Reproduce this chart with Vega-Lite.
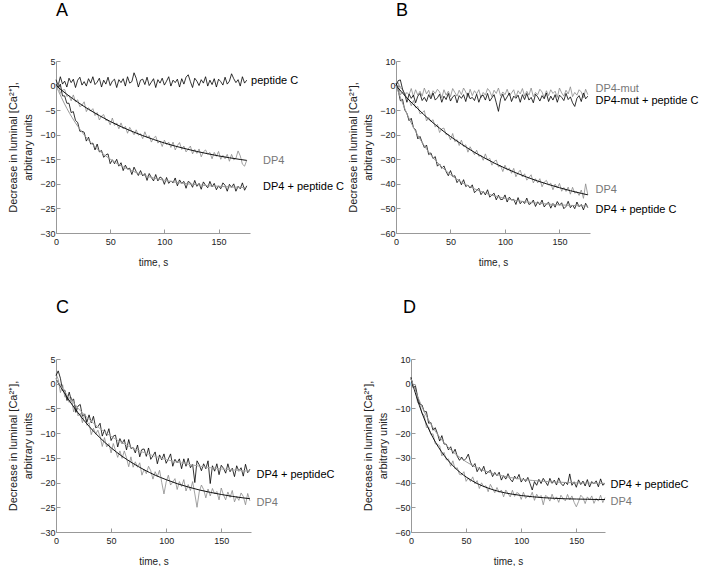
{
"$schema":"https://vega.github.io/schema/vega-lite/v6.json",
"background":"white",
"padding":{"left":7,"top":2,"right":0,"bottom":0},
"config":{
 "font":"Liberation Sans",
 "view":{"stroke":null},
 "axis":{"grid":false,"domainColor":"#999999","domainWidth":1,"tickColor":"#999999","tickSize":-4,"labelFontSize":9,"labelColor":"#222222","titleFontSize":11,"titleFontWeight":"normal","titleColor":"#222222","labelFlush":false,"labelOverlap":false},
 "axisX":{"labelPadding":8,"titlePadding":11,"titleFontSize":10},
 "axisY":{"labelPadding":5,"titlePadding":6,"titleLineHeight":15},
 "title":{"anchor":"start","frame":"group","baseline":"alphabetic","fontSize":18,"fontWeight":"normal","font":"Liberation Sans","color":"#000000"}
},
"datasets":{
"A1":[{"t":0,"v":1.2},{"t":2,"v":0},{"t":4,"v":1.8},{"t":6,"v":0.3},{"t":8,"v":0.9},{"t":10,"v":-0.3},{"t":12,"v":1.5},{"t":14,"v":0.6},{"t":16,"v":1.3},{"t":18,"v":-0.4},{"t":20,"v":1.1},{"t":22,"v":1.7},{"t":24,"v":0.1},{"t":26,"v":0.8},{"t":28,"v":-0.1},{"t":30,"v":1.4},{"t":32,"v":0.5},{"t":34,"v":1.8},{"t":36,"v":0.2},{"t":38,"v":0.7},{"t":40,"v":1.5},{"t":42,"v":-0.3},{"t":44,"v":1.1},{"t":46,"v":0.3},{"t":48,"v":1.7},{"t":50,"v":0},{"t":52,"v":0.9},{"t":54,"v":1.3},{"t":56,"v":-0.4},{"t":58,"v":1.2},{"t":60,"v":0.6},{"t":62,"v":1.4},{"t":64,"v":-0.1},{"t":66,"v":1.8},{"t":68,"v":0.5},{"t":70,"v":0.8},{"t":72,"v":2.6},{"t":74,"v":1.5},{"t":76,"v":-0.3},{"t":78,"v":1.1},{"t":80,"v":1.3},{"t":82,"v":0.2},{"t":84,"v":1.7},{"t":86,"v":0},{"t":88,"v":0.7},{"t":90,"v":1.4},{"t":92,"v":-0.4},{"t":94,"v":1.2},{"t":96,"v":0.5},{"t":98,"v":1.5},{"t":100,"v":0.1},{"t":102,"v":0.9},{"t":104,"v":1.8},{"t":106,"v":-0.1},{"t":108,"v":1.1},{"t":110,"v":0.6},{"t":112,"v":1.3},{"t":114,"v":-0.3},{"t":116,"v":1.4},{"t":118,"v":0.3},{"t":120,"v":1.7},{"t":122,"v":2.2},{"t":124,"v":0.8},{"t":126,"v":-0.4},{"t":128,"v":1.5},{"t":130,"v":0.9},{"t":132,"v":0},{"t":134,"v":1.2},{"t":136,"v":0.5},{"t":138,"v":1.8},{"t":140,"v":-0.1},{"t":142,"v":1.1},{"t":144,"v":0.2},{"t":146,"v":1.4},{"t":148,"v":-0.3},{"t":150,"v":1.3},{"t":152,"v":0.8},{"t":154,"v":0.1},{"t":156,"v":1.7},{"t":158,"v":0.3},{"t":160,"v":0.9},{"t":162,"v":2.4},{"t":164,"v":1.4},{"t":166,"v":0.6},{"t":168,"v":1.2},{"t":170,"v":-0.1},{"t":172,"v":1.8},{"t":174,"v":0.5},{"t":176,"v":1.1}],
"A2":[{"t":0,"v":-0.3},{"t":2,"v":0.4},{"t":4,"v":-1.6},{"t":6,"v":-0.9},{"t":8,"v":-0.8},{"t":10,"v":-2.2},{"t":12,"v":-2.0},{"t":14,"v":-3.1},{"t":16,"v":-1.9},{"t":18,"v":-3.3},{"t":20,"v":-2.9},{"t":22,"v":-4.3},{"t":24,"v":-4.0},{"t":26,"v":-3.3},{"t":28,"v":-5.3},{"t":30,"v":-4.5},{"t":32,"v":-5.2},{"t":34,"v":-4.7},{"t":36,"v":-6.1},{"t":38,"v":-5.5},{"t":40,"v":-7.0},{"t":42,"v":-6.2},{"t":44,"v":-5.9},{"t":46,"v":-7.1},{"t":48,"v":-7.0},{"t":50,"v":-8.0},{"t":52,"v":-6.6},{"t":54,"v":-8.1},{"t":56,"v":-7.6},{"t":58,"v":-8.8},{"t":60,"v":-7.6},{"t":62,"v":-8.8},{"t":64,"v":-8.3},{"t":66,"v":-9.7},{"t":68,"v":-8.5},{"t":70,"v":-9.3},{"t":72,"v":-10.0},{"t":74,"v":-9.0},{"t":76,"v":-10.1},{"t":78,"v":-9.8},{"t":80,"v":-10.8},{"t":82,"v":-9.4},{"t":84,"v":-10.6},{"t":86,"v":-10.2},{"t":88,"v":-11.5},{"t":90,"v":-10.7},{"t":92,"v":-10.3},{"t":94,"v":-11.7},{"t":96,"v":-11.3},{"t":98,"v":-12.4},{"t":100,"v":-11.1},{"t":102,"v":-12.0},{"t":104,"v":-11.5},{"t":106,"v":-12.6},{"t":108,"v":-11.5},{"t":110,"v":-13.1},{"t":112,"v":-12.2},{"t":114,"v":-11.6},{"t":116,"v":-13.0},{"t":118,"v":-12.3},{"t":120,"v":-13.5},{"t":122,"v":-12.9},{"t":124,"v":-12.3},{"t":126,"v":-13.9},{"t":128,"v":-13.0},{"t":130,"v":-13.8},{"t":132,"v":-12.9},{"t":134,"v":-14.5},{"t":136,"v":-13.5},{"t":138,"v":-13.1},{"t":140,"v":-14.0},{"t":142,"v":-13.6},{"t":144,"v":-14.9},{"t":146,"v":-13.6},{"t":148,"v":-14.4},{"t":150,"v":-13.4},{"t":152,"v":-15.0},{"t":154,"v":-14.2},{"t":156,"v":-14.9},{"t":158,"v":-14.0},{"t":160,"v":-15.4},{"t":162,"v":-14.0},{"t":164,"v":-15.1},{"t":166,"v":-14.8},{"t":168,"v":-13.3},{"t":170,"v":-14.3},{"t":172,"v":-16.0},{"t":174,"v":-16.4},{"t":176,"v":-15.2}],
"A3":[{"t":0,"v":0.3},{"t":2,"v":-0.4},{"t":4,"v":0.3},{"t":6,"v":-2.1},{"t":8,"v":-2.1},{"t":10,"v":-3.6},{"t":12,"v":-3.6},{"t":14,"v":-5.5},{"t":16,"v":-5.3},{"t":18,"v":-7.1},{"t":20,"v":-7.5},{"t":22,"v":-9.3},{"t":24,"v":-9.3},{"t":26,"v":-9.5},{"t":28,"v":-11.3},{"t":30,"v":-10.5},{"t":32,"v":-11.9},{"t":34,"v":-11.7},{"t":36,"v":-13.1},{"t":38,"v":-11.9},{"t":40,"v":-13.5},{"t":42,"v":-13.2},{"t":44,"v":-14.6},{"t":46,"v":-14.1},{"t":48,"v":-13.9},{"t":50,"v":-15.9},{"t":52,"v":-15.1},{"t":54,"v":-15.9},{"t":56,"v":-15.0},{"t":58,"v":-16.4},{"t":60,"v":-15.7},{"t":62,"v":-17.3},{"t":64,"v":-16.2},{"t":66,"v":-17.0},{"t":68,"v":-16.8},{"t":70,"v":-18.1},{"t":72,"v":-16.6},{"t":74,"v":-17.5},{"t":76,"v":-18.3},{"t":78,"v":-17.3},{"t":80,"v":-18.4},{"t":82,"v":-17.9},{"t":84,"v":-19.3},{"t":86,"v":-17.9},{"t":88,"v":-18.7},{"t":90,"v":-19.4},{"t":92,"v":-18.1},{"t":94,"v":-19.4},{"t":96,"v":-18.6},{"t":98,"v":-18.9},{"t":100,"v":-20.1},{"t":102,"v":-18.7},{"t":104,"v":-19.9},{"t":106,"v":-19.4},{"t":108,"v":-19.8},{"t":110,"v":-18.8},{"t":112,"v":-20.4},{"t":114,"v":-19.2},{"t":116,"v":-19.9},{"t":118,"v":-19.5},{"t":120,"v":-20.9},{"t":122,"v":-19.5},{"t":124,"v":-19.8},{"t":126,"v":-20.7},{"t":128,"v":-19.3},{"t":130,"v":-20.5},{"t":132,"v":-19.9},{"t":134,"v":-21.1},{"t":136,"v":-19.6},{"t":138,"v":-20.3},{"t":140,"v":-20.8},{"t":142,"v":-19.5},{"t":144,"v":-20.6},{"t":146,"v":-19.9},{"t":148,"v":-21.2},{"t":150,"v":-20.4},{"t":152,"v":-21.0},{"t":154,"v":-19.8},{"t":156,"v":-20.3},{"t":158,"v":-21.5},{"t":160,"v":-20.1},{"t":162,"v":-20.7},{"t":164,"v":-20.0},{"t":166,"v":-21.5},{"t":168,"v":-20.5},{"t":170,"v":-21.0},{"t":172,"v":-19.8},{"t":174,"v":-21.3},{"t":176,"v":-20.4}],
"fA2":[{"t":0,"v":0},{"t":10,"v":-1.77},{"t":20,"v":-3.38},{"t":30,"v":-4.82},{"t":40,"v":-6.11},{"t":50,"v":-7.3},{"t":60,"v":-8.36},{"t":70,"v":-9.31},{"t":80,"v":-10.18},{"t":90,"v":-10.97},{"t":100,"v":-11.68},{"t":110,"v":-12.32},{"t":120,"v":-12.88},{"t":130,"v":-13.41},{"t":140,"v":-13.87},{"t":150,"v":-14.31},{"t":160,"v":-14.69},{"t":170,"v":-15.04},{"t":176,"v":-15.22}],
"fA3":[{"t":0,"v":0},{"t":10,"v":-4.64},{"t":20,"v":-8.25},{"t":30,"v":-11.09},{"t":40,"v":-13.27},{"t":50,"v":-14.97},{"t":60,"v":-16.32},{"t":70,"v":-17.35},{"t":80,"v":-18.16},{"t":90,"v":-18.8},{"t":100,"v":-19.28},{"t":110,"v":-19.66},{"t":120,"v":-19.95},{"t":130,"v":-20.18},{"t":140,"v":-20.37},{"t":150,"v":-20.5},{"t":160,"v":-20.62},{"t":170,"v":-20.71},{"t":176,"v":-20.75}],
"labA":[{"t":180,"v":0.9,"label":"peptide C","g":"k"},{"t":191,"v":-15.3,"label":"DP4","g":"g"},{"t":191,"v":-20.6,"label":"DP4 + peptide C","g":"k"}],
"B1":[{"t":0,"v":0.5},{"t":2,"v":1.2},{"t":4,"v":-1.0},{"t":6,"v":-1.5},{"t":8,"v":-4.1},{"t":10,"v":-2.8},{"t":12,"v":-3.7},{"t":14,"v":-1.2},{"t":16,"v":-4.5},{"t":18,"v":-1.7},{"t":20,"v":-3.9},{"t":22,"v":-2.3},{"t":24,"v":-4.3},{"t":26,"v":-1.0},{"t":28,"v":-3.4},{"t":30,"v":-1.9},{"t":32,"v":-4.8},{"t":34,"v":-2.1},{"t":36,"v":-3.2},{"t":38,"v":-1.5},{"t":40,"v":-2.6},{"t":42,"v":-5.0},{"t":44,"v":-1.7},{"t":46,"v":-3.9},{"t":48,"v":-2.3},{"t":50,"v":-4.5},{"t":52,"v":-1.2},{"t":54,"v":-2.8},{"t":56,"v":-4.3},{"t":58,"v":-1.9},{"t":60,"v":-3.7},{"t":62,"v":-1.0},{"t":64,"v":-2.6},{"t":66,"v":-4.8},{"t":68,"v":-1.5},{"t":70,"v":-4.1},{"t":72,"v":-2.1},{"t":74,"v":-3.4},{"t":76,"v":-1.7},{"t":78,"v":-5.0},{"t":80,"v":-2.8},{"t":82,"v":-3.9},{"t":84,"v":-1.2},{"t":86,"v":-2.3},{"t":88,"v":-4.5},{"t":90,"v":-1.9},{"t":92,"v":-3.2},{"t":94,"v":-1.0},{"t":96,"v":-4.3},{"t":98,"v":-2.6},{"t":100,"v":-3.7},{"t":102,"v":-1.5},{"t":104,"v":-4.1},{"t":106,"v":-3.0},{"t":108,"v":-1.7},{"t":110,"v":-4.8},{"t":112,"v":-2.1},{"t":114,"v":-3.4},{"t":116,"v":-1.2},{"t":118,"v":-4.3},{"t":120,"v":-2.3},{"t":122,"v":-3.9},{"t":124,"v":-1.0},{"t":126,"v":-4.5},{"t":128,"v":-2.8},{"t":130,"v":-3.7},{"t":132,"v":-1.5},{"t":134,"v":-2.6},{"t":136,"v":-5.0},{"t":138,"v":-2.1},{"t":140,"v":-4.1},{"t":142,"v":-1.7},{"t":144,"v":-3.2},{"t":146,"v":-2.3},{"t":148,"v":-4.8},{"t":150,"v":-1.0},{"t":152,"v":-3.0},{"t":154,"v":-4.3},{"t":156,"v":-1.9},{"t":158,"v":-3.4},{"t":160,"v":-0.5},{"t":162,"v":-4.5},{"t":164,"v":-2.8},{"t":166,"v":-3.9},{"t":168,"v":-1.7},{"t":170,"v":-2.6},{"t":172,"v":-5.0},{"t":174,"v":-1.5},{"t":176,"v":-3.7}],
"B2":[{"t":0,"v":0},{"t":2,"v":2.0},{"t":4,"v":2.3},{"t":6,"v":-1.5},{"t":8,"v":-3.5},{"t":10,"v":-6.8},{"t":12,"v":-3.5},{"t":14,"v":-5.2},{"t":16,"v":-3.9},{"t":18,"v":-7.0},{"t":20,"v":-4.3},{"t":22,"v":-3.2},{"t":24,"v":-6.1},{"t":26,"v":-4.8},{"t":28,"v":-6.5},{"t":30,"v":-3.7},{"t":32,"v":-5.4},{"t":34,"v":-3.0},{"t":36,"v":-5.9},{"t":38,"v":-5.0},{"t":40,"v":-3.5},{"t":42,"v":-6.8},{"t":44,"v":-4.3},{"t":46,"v":-5.7},{"t":48,"v":-3.2},{"t":50,"v":-6.3},{"t":52,"v":-4.6},{"t":54,"v":-3.9},{"t":56,"v":-7.0},{"t":58,"v":-4.1},{"t":60,"v":-5.2},{"t":62,"v":-3.7},{"t":64,"v":-6.5},{"t":66,"v":-3.0},{"t":68,"v":-5.4},{"t":70,"v":-4.8},{"t":72,"v":-6.1},{"t":74,"v":-3.5},{"t":76,"v":-6.8},{"t":78,"v":-4.3},{"t":80,"v":-3.9},{"t":82,"v":-5.9},{"t":84,"v":-3.2},{"t":86,"v":-6.3},{"t":88,"v":-5.0},{"t":90,"v":-3.7},{"t":92,"v":-7.0},{"t":94,"v":-10.5},{"t":96,"v":-5.4},{"t":98,"v":-3.5},{"t":100,"v":-6.1},{"t":102,"v":-4.6},{"t":104,"v":-3.0},{"t":106,"v":-6.5},{"t":108,"v":-4.3},{"t":110,"v":-5.2},{"t":112,"v":-3.9},{"t":114,"v":-6.8},{"t":116,"v":-3.7},{"t":118,"v":-5.7},{"t":120,"v":-3.2},{"t":122,"v":-5.9},{"t":124,"v":-4.8},{"t":126,"v":-7.0},{"t":128,"v":-3.5},{"t":130,"v":-4.6},{"t":132,"v":-6.3},{"t":134,"v":-4.1},{"t":136,"v":-5.4},{"t":138,"v":-3.0},{"t":140,"v":-6.5},{"t":142,"v":-4.3},{"t":144,"v":-5.9},{"t":146,"v":-3.7},{"t":148,"v":-6.8},{"t":150,"v":-3.9},{"t":152,"v":-4.8},{"t":154,"v":-6.1},{"t":156,"v":-3.2},{"t":158,"v":-5.7},{"t":160,"v":-4.6},{"t":162,"v":-7.0},{"t":164,"v":-8.5},{"t":166,"v":-5.2},{"t":168,"v":-4.1},{"t":170,"v":-6.5},{"t":172,"v":-3.0},{"t":174,"v":-5.4},{"t":176,"v":-4.3}],
"B3":[{"t":0,"v":-0.6},{"t":2,"v":0.4},{"t":4,"v":-3.8},{"t":6,"v":-2.6},{"t":8,"v":-2.8},{"t":10,"v":-5.8},{"t":12,"v":-5.7},{"t":14,"v":-8.2},{"t":16,"v":-6.1},{"t":18,"v":-9.0},{"t":20,"v":-8.5},{"t":22,"v":-11.5},{"t":24,"v":-11.1},{"t":26,"v":-10.2},{"t":28,"v":-14.4},{"t":30,"v":-13.0},{"t":32,"v":-14.6},{"t":34,"v":-13.9},{"t":36,"v":-16.9},{"t":38,"v":-15.8},{"t":40,"v":-19.1},{"t":42,"v":-17.6},{"t":44,"v":-17.3},{"t":46,"v":-20.0},{"t":48,"v":-19.9},{"t":50,"v":-22.1},{"t":52,"v":-19.5},{"t":54,"v":-22.8},{"t":56,"v":-22.0},{"t":58,"v":-24.4},{"t":60,"v":-22.2},{"t":62,"v":-24.8},{"t":64,"v":-24.1},{"t":66,"v":-27.1},{"t":68,"v":-24.9},{"t":70,"v":-26.6},{"t":72,"v":-28.1},{"t":74,"v":-26.3},{"t":76,"v":-28.8},{"t":78,"v":-28.3},{"t":80,"v":-30.4},{"t":82,"v":-27.8},{"t":84,"v":-30.3},{"t":86,"v":-29.6},{"t":88,"v":-32.4},{"t":90,"v":-30.9},{"t":92,"v":-30.3},{"t":94,"v":-33.1},{"t":96,"v":-32.6},{"t":98,"v":-35.0},{"t":100,"v":-32.4},{"t":102,"v":-34.4},{"t":104,"v":-33.6},{"t":106,"v":-35.7},{"t":108,"v":-33.7},{"t":110,"v":-37.1},{"t":112,"v":-35.5},{"t":114,"v":-34.4},{"t":116,"v":-37.2},{"t":118,"v":-35.9},{"t":120,"v":-38.5},{"t":122,"v":-37.4},{"t":124,"v":-36.3},{"t":126,"v":-39.6},{"t":128,"v":-37.9},{"t":130,"v":-39.6},{"t":132,"v":-37.9},{"t":134,"v":-41.2},{"t":136,"v":-39.3},{"t":138,"v":-38.6},{"t":140,"v":-40.5},{"t":142,"v":-39.7},{"t":144,"v":-42.4},{"t":146,"v":-40.1},{"t":148,"v":-41.7},{"t":150,"v":-39.8},{"t":152,"v":-43.0},{"t":154,"v":-41.5},{"t":156,"v":-43.1},{"t":158,"v":-41.3},{"t":160,"v":-44.2},{"t":162,"v":-41.4},{"t":164,"v":-43.8},{"t":166,"v":-43.2},{"t":168,"v":-44.7},{"t":170,"v":-42.5},{"t":172,"v":-45.9},{"t":174,"v":-40.0},{"t":176,"v":-44.5}],
"B4":[{"t":0,"v":1.0},{"t":2,"v":-1.9},{"t":4,"v":-6.2},{"t":6,"v":-5.6},{"t":8,"v":-9.9},{"t":10,"v":-11.3},{"t":12,"v":-14.3},{"t":14,"v":-13.3},{"t":16,"v":-17.1},{"t":18,"v":-18.0},{"t":20,"v":-21.7},{"t":22,"v":-20.7},{"t":24,"v":-23.1},{"t":26,"v":-25.2},{"t":28,"v":-24.2},{"t":30,"v":-28.1},{"t":32,"v":-27.4},{"t":34,"v":-29.7},{"t":36,"v":-28.9},{"t":38,"v":-32.8},{"t":40,"v":-31.9},{"t":42,"v":-33.7},{"t":44,"v":-32.7},{"t":46,"v":-35.0},{"t":48,"v":-36.7},{"t":50,"v":-34.6},{"t":52,"v":-37.0},{"t":54,"v":-36.7},{"t":56,"v":-39.5},{"t":58,"v":-38.2},{"t":60,"v":-40.4},{"t":62,"v":-38.3},{"t":64,"v":-41.1},{"t":66,"v":-40.5},{"t":68,"v":-41.7},{"t":70,"v":-40.4},{"t":72,"v":-43.6},{"t":74,"v":-42.7},{"t":76,"v":-41.8},{"t":78,"v":-44.4},{"t":80,"v":-43.1},{"t":82,"v":-44.5},{"t":84,"v":-42.4},{"t":86,"v":-45.4},{"t":88,"v":-44.6},{"t":90,"v":-43.8},{"t":92,"v":-46.5},{"t":94,"v":-44.6},{"t":96,"v":-46.4},{"t":98,"v":-46.3},{"t":100,"v":-44.5},{"t":102,"v":-47.4},{"t":104,"v":-45.4},{"t":106,"v":-46.6},{"t":108,"v":-46.3},{"t":110,"v":-48.4},{"t":112,"v":-45.6},{"t":114,"v":-48.1},{"t":116,"v":-47.0},{"t":118,"v":-48.0},{"t":120,"v":-45.8},{"t":122,"v":-48.4},{"t":124,"v":-47.9},{"t":126,"v":-46.6},{"t":128,"v":-49.2},{"t":130,"v":-47.3},{"t":132,"v":-48.5},{"t":134,"v":-46.6},{"t":136,"v":-49.4},{"t":138,"v":-48.2},{"t":140,"v":-47.5},{"t":142,"v":-49.9},{"t":144,"v":-48.0},{"t":146,"v":-49.5},{"t":148,"v":-47.2},{"t":150,"v":-48.7},{"t":152,"v":-47.7},{"t":154,"v":-50.1},{"t":156,"v":-49.2},{"t":158,"v":-47.1},{"t":160,"v":-49.7},{"t":162,"v":-48.6},{"t":164,"v":-50.1},{"t":166,"v":-47.4},{"t":168,"v":-49.3},{"t":170,"v":-48.4},{"t":172,"v":-50.6},{"t":174,"v":-47.9},{"t":176,"v":-49.7}],
"fB3":[{"t":0,"v":0},{"t":10,"v":-4.98},{"t":20,"v":-9.46},{"t":30,"v":-13.62},{"t":40,"v":-17.34},{"t":50,"v":-20.73},{"t":60,"v":-23.79},{"t":70,"v":-26.64},{"t":80,"v":-29.16},{"t":90,"v":-31.51},{"t":100,"v":-33.59},{"t":110,"v":-35.5},{"t":120,"v":-37.25},{"t":130,"v":-38.84},{"t":140,"v":-40.26},{"t":150,"v":-41.57},{"t":160,"v":-42.78},{"t":170,"v":-43.87},{"t":176,"v":-44.47}],
"fB4":[{"t":0,"v":0},{"t":10,"v":-11.43},{"t":20,"v":-20.25},{"t":30,"v":-27.03},{"t":40,"v":-32.22},{"t":50,"v":-36.23},{"t":60,"v":-39.3},{"t":70,"v":-41.63},{"t":80,"v":-43.46},{"t":90,"v":-44.85},{"t":100,"v":-45.94},{"t":110,"v":-46.78},{"t":120,"v":-47.37},{"t":130,"v":-47.87},{"t":140,"v":-48.26},{"t":150,"v":-48.56},{"t":160,"v":-48.76},{"t":170,"v":-48.96},{"t":176,"v":-49.0}],
"labB":[{"t":183,"v":-1.4,"label":"DP4-mut","g":"g"},{"t":183,"v":-6.4,"label":"DP4-mut + peptide C","g":"k"},{"t":183,"v":-42.7,"label":"DP4","g":"g"},{"t":183,"v":-50.6,"label":"DP4 + peptide C","g":"k"}],
"C1":[{"t":0,"v":1.6},{"t":2,"v":2.6},{"t":4,"v":1.1},{"t":6,"v":-1.4},{"t":8,"v":-1.3},{"t":10,"v":-3.4},{"t":12,"v":-1.7},{"t":14,"v":-3.5},{"t":16,"v":-3.1},{"t":18,"v":-5.8},{"t":20,"v":-4.5},{"t":22,"v":-4.2},{"t":24,"v":-6.6},{"t":26,"v":-6.1},{"t":28,"v":-7.8},{"t":30,"v":-6.3},{"t":32,"v":-7.9},{"t":34,"v":-6.6},{"t":36,"v":-8.9},{"t":38,"v":-8.7},{"t":40,"v":-8.0},{"t":42,"v":-10.6},{"t":44,"v":-9.3},{"t":46,"v":-10.5},{"t":48,"v":-9.1},{"t":50,"v":-11.5},{"t":52,"v":-10.6},{"t":54,"v":-10.4},{"t":56,"v":-12.8},{"t":58,"v":-11.1},{"t":60,"v":-12.1},{"t":62,"v":-11.3},{"t":64,"v":-13.4},{"t":66,"v":-11.3},{"t":68,"v":-13.1},{"t":70,"v":-12.9},{"t":72,"v":-14.0},{"t":74,"v":-12.4},{"t":76,"v":-14.8},{"t":78,"v":-13.3},{"t":80,"v":-13.2},{"t":82,"v":-14.7},{"t":84,"v":-13.0},{"t":86,"v":-15.3},{"t":88,"v":-14.6},{"t":90,"v":-13.8},{"t":92,"v":-16.2},{"t":94,"v":-14.4},{"t":96,"v":-15.4},{"t":98,"v":-14.2},{"t":100,"v":-16.1},{"t":102,"v":-15.2},{"t":104,"v":-14.2},{"t":106,"v":-16.7},{"t":108,"v":-15.3},{"t":110,"v":-16.0},{"t":112,"v":-15.2},{"t":114,"v":-17.2},{"t":116,"v":-15.2},{"t":118,"v":-16.7},{"t":120,"v":-15.1},{"t":122,"v":-17.0},{"t":124,"v":-16.3},{"t":126,"v":-20.0},{"t":128,"v":-15.6},{"t":130,"v":-16.4},{"t":132,"v":-17.6},{"t":134,"v":-16.2},{"t":136,"v":-17.2},{"t":138,"v":-15.6},{"t":140,"v":-20.2},{"t":142,"v":-16.6},{"t":144,"v":-17.7},{"t":146,"v":-16.2},{"t":148,"v":-18.4},{"t":150,"v":-16.5},{"t":152,"v":-17.1},{"t":154,"v":-18.1},{"t":156,"v":-16.2},{"t":158,"v":-17.8},{"t":160,"v":-17.1},{"t":162,"v":-18.8},{"t":164,"v":-16.6},{"t":166,"v":-17.7},{"t":168,"v":-17.0},{"t":170,"v":-18.7},{"t":172,"v":-16.3},{"t":174,"v":-18.0},{"t":176,"v":-17.3}],
"C2":[{"t":0,"v":2.0},{"t":2,"v":0.9},{"t":4,"v":-1.8},{"t":6,"v":-0.2},{"t":8,"v":-2.7},{"t":10,"v":-2.6},{"t":12,"v":-3.8},{"t":14,"v":-2.8},{"t":16,"v":-5.7},{"t":18,"v":-4.4},{"t":20,"v":-6.5},{"t":22,"v":-6.0},{"t":24,"v":-7.9},{"t":26,"v":-6.2},{"t":28,"v":-8.4},{"t":30,"v":-7.9},{"t":32,"v":-10.3},{"t":34,"v":-9.0},{"t":36,"v":-10.2},{"t":38,"v":-9.4},{"t":40,"v":-10.7},{"t":42,"v":-12.7},{"t":44,"v":-10.9},{"t":46,"v":-12.8},{"t":48,"v":-12.1},{"t":50,"v":-14.0},{"t":52,"v":-12.1},{"t":54,"v":-13.5},{"t":56,"v":-14.9},{"t":58,"v":-13.6},{"t":60,"v":-15.1},{"t":62,"v":-13.6},{"t":64,"v":-15.0},{"t":66,"v":-16.8},{"t":68,"v":-14.8},{"t":70,"v":-16.9},{"t":72,"v":-15.8},{"t":74,"v":-16.9},{"t":76,"v":-16.0},{"t":78,"v":-18.5},{"t":80,"v":-17.3},{"t":82,"v":-18.2},{"t":84,"v":-16.7},{"t":86,"v":-17.6},{"t":88,"v":-19.3},{"t":90,"v":-17.8},{"t":92,"v":-18.8},{"t":94,"v":-17.5},{"t":96,"v":-20.0},{"t":98,"v":-22.3},{"t":100,"v":-19.9},{"t":102,"v":-18.5},{"t":104,"v":-20.5},{"t":106,"v":-19.9},{"t":108,"v":-19.2},{"t":110,"v":-21.4},{"t":112,"v":-19.8},{"t":114,"v":-20.8},{"t":116,"v":-19.4},{"t":118,"v":-21.7},{"t":120,"v":-20.4},{"t":122,"v":-21.6},{"t":124,"v":-19.8},{"t":126,"v":-22.3},{"t":128,"v":-25.0},{"t":130,"v":-21.9},{"t":132,"v":-20.5},{"t":134,"v":-21.4},{"t":136,"v":-23.1},{"t":138,"v":-21.3},{"t":140,"v":-22.7},{"t":142,"v":-21.2},{"t":144,"v":-22.3},{"t":146,"v":-21.8},{"t":148,"v":-23.5},{"t":150,"v":-21.1},{"t":152,"v":-22.5},{"t":154,"v":-23.5},{"t":156,"v":-21.9},{"t":158,"v":-23.0},{"t":160,"v":-21.6},{"t":162,"v":-23.9},{"t":164,"v":-22.8},{"t":166,"v":-23.6},{"t":168,"v":-22.1},{"t":170,"v":-22.8},{"t":172,"v":-24.5},{"t":174,"v":-22.2},{"t":176,"v":-23.7}],
"fC1":[{"t":0,"v":1},{"t":10,"v":-2.24},{"t":20,"v":-4.95},{"t":30,"v":-7.19},{"t":40,"v":-9.08},{"t":50,"v":-10.64},{"t":60,"v":-11.95},{"t":70,"v":-13.04},{"t":80,"v":-13.94},{"t":90,"v":-14.7},{"t":100,"v":-15.34},{"t":110,"v":-15.87},{"t":120,"v":-16.3},{"t":130,"v":-16.67},{"t":140,"v":-16.98},{"t":150,"v":-17.23},{"t":160,"v":-17.43},{"t":170,"v":-17.62},{"t":176,"v":-17.7}],
"fC2":[{"t":0,"v":1},{"t":10,"v":-2.72},{"t":20,"v":-5.89},{"t":30,"v":-8.62},{"t":40,"v":-10.96},{"t":50,"v":-12.96},{"t":60,"v":-14.68},{"t":70,"v":-16.13},{"t":80,"v":-17.41},{"t":90,"v":-18.5},{"t":100,"v":-19.41},{"t":110,"v":-20.22},{"t":120,"v":-20.89},{"t":130,"v":-21.49},{"t":140,"v":-21.98},{"t":150,"v":-22.41},{"t":160,"v":-22.79},{"t":170,"v":-23.1},{"t":176,"v":-23.26}],
"labC":[{"t":182,"v":-18.5,"label":"DP4 + peptideC","g":"k"},{"t":182,"v":-24.1,"label":"DP4","g":"g"}],
"D1":[{"t":0,"v":2.6},{"t":2,"v":-1.7},{"t":4,"v":-0.8},{"t":6,"v":-5.2},{"t":8,"v":-8.3},{"t":10,"v":-8.6},{"t":12,"v":-11.3},{"t":14,"v":-11.3},{"t":16,"v":-16.0},{"t":18,"v":-15.7},{"t":20,"v":-18.8},{"t":22,"v":-17.8},{"t":24,"v":-20.2},{"t":26,"v":-23.2},{"t":28,"v":-21.0},{"t":30,"v":-24.4},{"t":32,"v":-24.5},{"t":34,"v":-26.8},{"t":36,"v":-25.5},{"t":38,"v":-28.2},{"t":40,"v":-26.5},{"t":42,"v":-29.4},{"t":44,"v":-31.0},{"t":46,"v":-29.7},{"t":48,"v":-31.1},{"t":50,"v":-30.2},{"t":52,"v":-28.5},{"t":54,"v":-31.8},{"t":56,"v":-33.6},{"t":58,"v":-32.3},{"t":60,"v":-35.6},{"t":62,"v":-33.9},{"t":64,"v":-35.5},{"t":66,"v":-33.4},{"t":68,"v":-36.6},{"t":70,"v":-35.7},{"t":72,"v":-35.0},{"t":74,"v":-37.6},{"t":76,"v":-35.9},{"t":78,"v":-37.2},{"t":80,"v":-35.8},{"t":82,"v":-39.0},{"t":84,"v":-37.2},{"t":86,"v":-38.6},{"t":88,"v":-36.4},{"t":90,"v":-38.6},{"t":92,"v":-39.7},{"t":94,"v":-37.4},{"t":96,"v":-38.6},{"t":98,"v":-36.7},{"t":100,"v":-39.8},{"t":102,"v":-38.3},{"t":104,"v":-39.6},{"t":106,"v":-37.9},{"t":108,"v":-40.4},{"t":110,"v":-43.0},{"t":112,"v":-39.6},{"t":114,"v":-41.1},{"t":116,"v":-38.7},{"t":118,"v":-40.4},{"t":120,"v":-38.3},{"t":122,"v":-39.7},{"t":124,"v":-41.2},{"t":126,"v":-38.3},{"t":128,"v":-40.3},{"t":130,"v":-39.0},{"t":132,"v":-41.0},{"t":134,"v":-38.1},{"t":136,"v":-40.3},{"t":138,"v":-41.3},{"t":140,"v":-39.8},{"t":142,"v":-40.8},{"t":144,"v":-36.5},{"t":146,"v":-41.1},{"t":148,"v":-39.7},{"t":150,"v":-41.9},{"t":152,"v":-38.9},{"t":154,"v":-40.8},{"t":156,"v":-39.4},{"t":158,"v":-41.4},{"t":160,"v":-38.8},{"t":162,"v":-41.8},{"t":164,"v":-39.6},{"t":166,"v":-40.5},{"t":168,"v":-39.3},{"t":170,"v":-41.7},{"t":172,"v":-38.5},{"t":174,"v":-41.1},{"t":176,"v":-40.3}],
"D2":[{"t":0,"v":2.6},{"t":2,"v":-1.2},{"t":4,"v":-1.8},{"t":6,"v":-7.7},{"t":8,"v":-8.3},{"t":10,"v":-12.1},{"t":12,"v":-12.7},{"t":14,"v":-17.7},{"t":16,"v":-17.5},{"t":18,"v":-20.5},{"t":20,"v":-20.3},{"t":22,"v":-24.3},{"t":24,"v":-24.5},{"t":26,"v":-25.1},{"t":28,"v":-29.2},{"t":30,"v":-27.8},{"t":32,"v":-30.8},{"t":34,"v":-30.4},{"t":36,"v":-33.4},{"t":38,"v":-31.2},{"t":40,"v":-34.5},{"t":42,"v":-34.0},{"t":44,"v":-36.7},{"t":46,"v":-36.9},{"t":48,"v":-35.6},{"t":50,"v":-39.5},{"t":52,"v":-38.1},{"t":54,"v":-39.6},{"t":56,"v":-37.7},{"t":58,"v":-40.5},{"t":60,"v":-39.2},{"t":62,"v":-42.4},{"t":64,"v":-40.1},{"t":66,"v":-41.7},{"t":68,"v":-41.3},{"t":70,"v":-43.7},{"t":72,"v":-40.7},{"t":74,"v":-42.4},{"t":76,"v":-44.1},{"t":78,"v":-42.0},{"t":80,"v":-44.0},{"t":82,"v":-43.0},{"t":84,"v":-45.8},{"t":86,"v":-43.0},{"t":88,"v":-44.4},{"t":90,"v":-45.8},{"t":92,"v":-43.1},{"t":94,"v":-45.6},{"t":96,"v":-44.0},{"t":98,"v":-44.5},{"t":100,"v":-46.8},{"t":102,"v":-43.9},{"t":104,"v":-46.4},{"t":106,"v":-45.3},{"t":108,"v":-46.0},{"t":110,"v":-43.9},{"t":112,"v":-47.2},{"t":114,"v":-44.7},{"t":116,"v":-46.2},{"t":118,"v":-45.2},{"t":120,"v":-49.0},{"t":122,"v":-45.2},{"t":124,"v":-45.8},{"t":126,"v":-47.5},{"t":128,"v":-44.7},{"t":130,"v":-47.0},{"t":132,"v":-45.8},{"t":134,"v":-48.0},{"t":136,"v":-45.1},{"t":138,"v":-46.5},{"t":140,"v":-47.4},{"t":142,"v":-44.8},{"t":144,"v":-47.0},{"t":146,"v":-45.4},{"t":148,"v":-48.0},{"t":150,"v":-49.8},{"t":152,"v":-47.7},{"t":154,"v":-45.1},{"t":156,"v":-46.1},{"t":158,"v":-48.5},{"t":160,"v":-45.8},{"t":162,"v":-47.0},{"t":164,"v":-45.4},{"t":166,"v":-48.4},{"t":168,"v":-46.4},{"t":170,"v":-47.5},{"t":172,"v":-45.1},{"t":174,"v":-48.1},{"t":176,"v":-46.1}],
"fD1":[{"t":0,"v":2},{"t":10,"v":-9.39},{"t":20,"v":-17.76},{"t":30,"v":-23.84},{"t":40,"v":-28.3},{"t":50,"v":-31.58},{"t":60,"v":-34.0},{"t":70,"v":-35.74},{"t":80,"v":-37.0},{"t":90,"v":-37.95},{"t":100,"v":-38.63},{"t":110,"v":-39.14},{"t":120,"v":-39.48},{"t":130,"v":-39.78},{"t":140,"v":-39.95},{"t":150,"v":-40.12},{"t":160,"v":-40.2},{"t":170,"v":-40.29},{"t":176,"v":-40.33}],
"fD2":[{"t":0,"v":2},{"t":10,"v":-11.87},{"t":20,"v":-21.86},{"t":30,"v":-28.97},{"t":40,"v":-34.06},{"t":50,"v":-37.74},{"t":60,"v":-40.39},{"t":70,"v":-42.25},{"t":80,"v":-43.62},{"t":90,"v":-44.55},{"t":100,"v":-45.24},{"t":110,"v":-45.73},{"t":120,"v":-46.12},{"t":130,"v":-46.36},{"t":140,"v":-46.56},{"t":150,"v":-46.66},{"t":160,"v":-46.76},{"t":170,"v":-46.85},{"t":176,"v":-46.85}],
"labD":[{"t":181,"v":-40.9,"label":"DP4 + peptideC","g":"k"},{"t":181,"v":-47.9,"label":"DP4","g":"g"}]
},
"spacing":32,
"vconcat":[
{"hconcat":[
 {"width":194,"height":172,"title":{"text":"A","offset":37},
  "encoding":{"x":{"field":"t","type":"quantitative","scale":{"domain":[0,179],"nice":false,"zero":false},"axis":{"values":[0,50,100,150],"title":"time, s"}},
   "y":{"field":"v","type":"quantitative","scale":{"domain":[-30,5],"nice":false,"zero":false},"axis":{"values":[-30,-25,-20,-15,-10,-5,0,5],"title":["Decrease in luminal [Ca²⁺],","arbitrary units"]}}},
  "layer":[
   {"data":{"name":"A1"},"mark":{"type":"line","color":"#000000","strokeWidth":0.8}},
   {"data":{"name":"A2"},"mark":{"type":"line","color":"#8a8a8a","strokeWidth":0.8}},
   {"data":{"name":"A3"},"mark":{"type":"line","color":"#000000","strokeWidth":0.8}},
   {"data":{"name":"fA2"},"mark":{"type":"line","color":"#111111","strokeWidth":1,"interpolate":"monotone"}},
   {"data":{"name":"fA3"},"mark":{"type":"line","color":"#999999","strokeWidth":1,"interpolate":"monotone"}},
   {"data":{"name":"labA"},"mark":{"type":"text","align":"left","baseline":"middle","fontSize":11},"encoding":{"text":{"field":"label"},"color":{"field":"g","type":"nominal","scale":{"domain":["k","g"],"range":["#000000","#777777"]},"legend":null}}}
  ]},
 {"width":194,"height":172,"title":{"text":"B","offset":37},
  "encoding":{"x":{"field":"t","type":"quantitative","scale":{"domain":[0,178],"nice":false,"zero":false},"axis":{"values":[0,50,100,150],"title":"time, s"}},
   "y":{"field":"v","type":"quantitative","scale":{"domain":[-60,10],"nice":false,"zero":false},"axis":{"values":[-60,-50,-40,-30,-20,-10,0,10],"title":["Decrease in luminal [Ca²⁺],","arbitrary units"]}}},
  "layer":[
   {"data":{"name":"B1"},"mark":{"type":"line","color":"#8a8a8a","strokeWidth":0.8}},
   {"data":{"name":"B2"},"mark":{"type":"line","color":"#000000","strokeWidth":0.8}},
   {"data":{"name":"B3"},"mark":{"type":"line","color":"#8a8a8a","strokeWidth":0.8}},
   {"data":{"name":"B4"},"mark":{"type":"line","color":"#000000","strokeWidth":0.8}},
   {"data":{"name":"fB3"},"mark":{"type":"line","color":"#111111","strokeWidth":1,"interpolate":"monotone"}},
   {"data":{"name":"fB4"},"mark":{"type":"line","color":"#999999","strokeWidth":1,"interpolate":"monotone"}},
   {"data":{"name":"labB"},"mark":{"type":"text","align":"left","baseline":"middle","fontSize":11},"encoding":{"text":{"field":"label"},"color":{"field":"g","type":"nominal","scale":{"domain":["k","g"],"range":["#000000","#777777"]},"legend":null}}}
  ]}
 ],"bounds":"flush","spacing":146},
{"hconcat":[
 {"width":195,"height":173,"title":{"text":"C","offset":38},
  "encoding":{"x":{"field":"t","type":"quantitative","scale":{"domain":[0,177],"nice":false,"zero":false},"axis":{"values":[0,50,100,150],"title":"time, s"}},
   "y":{"field":"v","type":"quantitative","scale":{"domain":[-30,5],"nice":false,"zero":false},"axis":{"values":[-30,-25,-20,-15,-10,-5,0,5],"title":["Decrease in luminal [Ca²⁺],","arbitrary units"]}}},
  "layer":[
   {"data":{"name":"C2"},"mark":{"type":"line","color":"#8a8a8a","strokeWidth":0.8}},
   {"data":{"name":"C1"},"mark":{"type":"line","color":"#000000","strokeWidth":0.8}},
   {"data":{"name":"fC2"},"mark":{"type":"line","color":"#111111","strokeWidth":1,"interpolate":"monotone"}},
   {"data":{"name":"fC1"},"mark":{"type":"line","color":"#aaaaaa","strokeWidth":1,"interpolate":"monotone"}},
   {"data":{"name":"labC"},"mark":{"type":"text","align":"left","baseline":"middle","fontSize":11},"encoding":{"text":{"field":"label"},"color":{"field":"g","type":"nominal","scale":{"domain":["k","g"],"range":["#000000","#777777"]},"legend":null}}}
  ]},
 {"width":194,"height":173,"title":{"text":"D","offset":38,"dx":-8},
  "encoding":{"x":{"field":"t","type":"quantitative","scale":{"domain":[0,176],"nice":false,"zero":false},"axis":{"values":[0,50,100,150],"title":"time, s"}},
   "y":{"field":"v","type":"quantitative","scale":{"domain":[-60,10],"nice":false,"zero":false},"axis":{"values":[-60,-50,-40,-30,-20,-10,0,10],"title":["Decrease in luminal [Ca²⁺],","arbitrary units"]}}},
  "layer":[
   {"data":{"name":"D2"},"mark":{"type":"line","color":"#8a8a8a","strokeWidth":0.8}},
   {"data":{"name":"D1"},"mark":{"type":"line","color":"#000000","strokeWidth":0.8}},
   {"data":{"name":"fD2"},"mark":{"type":"line","color":"#111111","strokeWidth":1,"interpolate":"monotone"}},
   {"data":{"name":"fD1"},"mark":{"type":"line","color":"#999999","strokeWidth":1,"interpolate":"monotone"}},
   {"data":{"name":"labD"},"mark":{"type":"text","align":"left","baseline":"middle","fontSize":11},"encoding":{"text":{"field":"label"},"color":{"field":"g","type":"nominal","scale":{"domain":["k","g"],"range":["#000000","#777777"]},"legend":null}}}
  ]}
 ],"bounds":"flush","spacing":160}
]
}
